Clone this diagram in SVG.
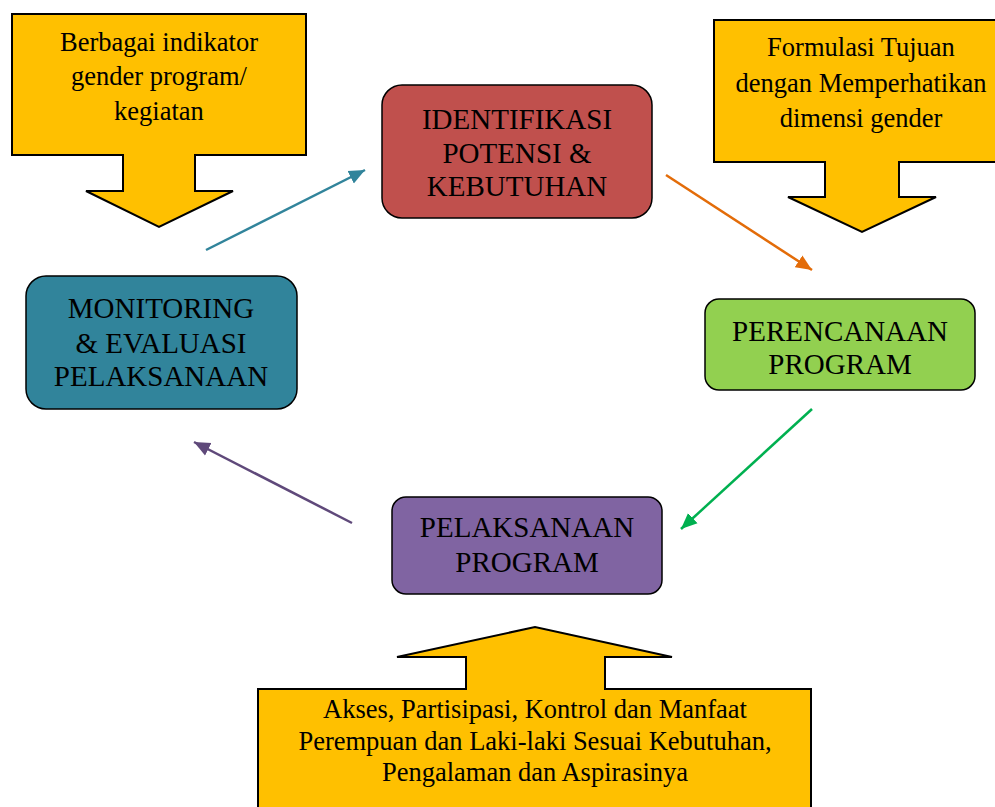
<svg xmlns="http://www.w3.org/2000/svg" width="995" height="807" viewBox="0 0 995 807">
<style>
.callout{fill:#FFC000;stroke:#000;stroke-width:2;stroke-linejoin:miter}
.node{stroke:#000;stroke-width:1.5}
.ct{font-family:"Liberation Serif","Times New Roman",serif;font-size:26.5px;fill:#000;text-anchor:middle}
.nt{font-family:"Liberation Serif","Times New Roman",serif;font-size:29px;fill:#000;text-anchor:middle}
.conn{fill:none;stroke-width:2.5}
</style>
<defs>
<marker id="mTeal" markerUnits="userSpaceOnUse" markerWidth="18" markerHeight="16" refX="16" refY="7" orient="auto" viewBox="0 0 18 14"><path d="M0,0 L16,7 L0,14 z" fill="#31849B"/></marker>
<marker id="mOrange" markerUnits="userSpaceOnUse" markerWidth="18" markerHeight="16" refX="16" refY="7" orient="auto" viewBox="0 0 18 14"><path d="M0,0 L16,7 L0,14 z" fill="#E36C09"/></marker>
<marker id="mGreen" markerUnits="userSpaceOnUse" markerWidth="18" markerHeight="16" refX="16" refY="7" orient="auto" viewBox="0 0 18 14"><path d="M0,0 L16,7 L0,14 z" fill="#00B050"/></marker>
<marker id="mPurple" markerUnits="userSpaceOnUse" markerWidth="18" markerHeight="16" refX="16" refY="7" orient="auto" viewBox="0 0 18 14"><path d="M0,0 L16,7 L0,14 z" fill="#5F497A"/></marker>
</defs>
<rect width="995" height="807" fill="#fff"/>

<g id="callout-indikator">
<path class="callout" d="M12,14 H306 V155 H195 V191 H233 L159,227 L86,191 H123 V155 H12 Z"/>
<text class="ct" x="159" y="51">Berbagai indikator</text>
<text class="ct" x="159" y="85">gender program/</text>
<text class="ct" x="159" y="120">kegiatan</text>
</g>

<g id="callout-formulasi">
<path class="callout" d="M714,20 H1000 V162 H899 V197 H936 L862,232 L788,197 H825 V162 H714 Z"/>
<text class="ct" x="861" y="56">Formulasi Tujuan</text>
<text class="ct" x="861" y="92">dengan Memperhatikan</text>
<text class="ct" x="861" y="127">dimensi gender</text>
</g>

<g id="callout-akses">
<path class="callout" d="M258,689 H466 V657 H397 L535,627 L672,657 H605 V689 H811 V812 H258 Z"/>
<text class="ct" x="535" y="718">Akses, Partisipasi, Kontrol dan Manfaat</text>
<text class="ct" x="535" y="750">Perempuan dan Laki-laki Sesuai Kebutuhan,</text>
<text class="ct" x="535" y="781">Pengalaman dan Aspirasinya</text>
</g>

<g id="node-identifikasi">
<rect class="node" x="382" y="85" width="270" height="133" rx="20" fill="#C0504D"/>
<text class="nt" x="517" y="129">IDENTIFIKASI</text>
<text class="nt" x="517" y="163">POTENSI &amp;</text>
<text class="nt" x="517" y="196">KEBUTUHAN</text>
</g>

<g id="node-monitoring">
<rect class="node" x="26" y="276" width="271" height="133" rx="20" fill="#31849B"/>
<text class="nt" x="161" y="318">MONITORING</text>
<text class="nt" x="161" y="353">&amp; EVALUASI</text>
<text class="nt" x="161" y="386">PELAKSANAAN</text>
</g>

<g id="node-perencanaan">
<rect class="node" x="705" y="299" width="270" height="91" rx="14" fill="#92D050"/>
<text class="nt" x="840" y="341">PERENCANAAN</text>
<text class="nt" x="840" y="374">PROGRAM</text>
</g>

<g id="node-pelaksanaan">
<rect class="node" x="392" y="497" width="270" height="97" rx="14" fill="#8064A2"/>
<text class="nt" x="527" y="537">PELAKSANAAN</text>
<text class="nt" x="527" y="572">PROGRAM</text>
</g>

<g id="connectors">
<line class="conn" x1="206" y1="250" x2="365" y2="170" stroke="#31849B" marker-end="url(#mTeal)"/>
<line class="conn" x1="666" y1="175" x2="812" y2="270" stroke="#E36C09" marker-end="url(#mOrange)"/>
<line class="conn" x1="812" y1="409" x2="681" y2="529" stroke="#00B050" marker-end="url(#mGreen)"/>
<line class="conn" x1="352" y1="523" x2="194" y2="442" stroke="#5F497A" marker-end="url(#mPurple)"/>
</g>
</svg>
